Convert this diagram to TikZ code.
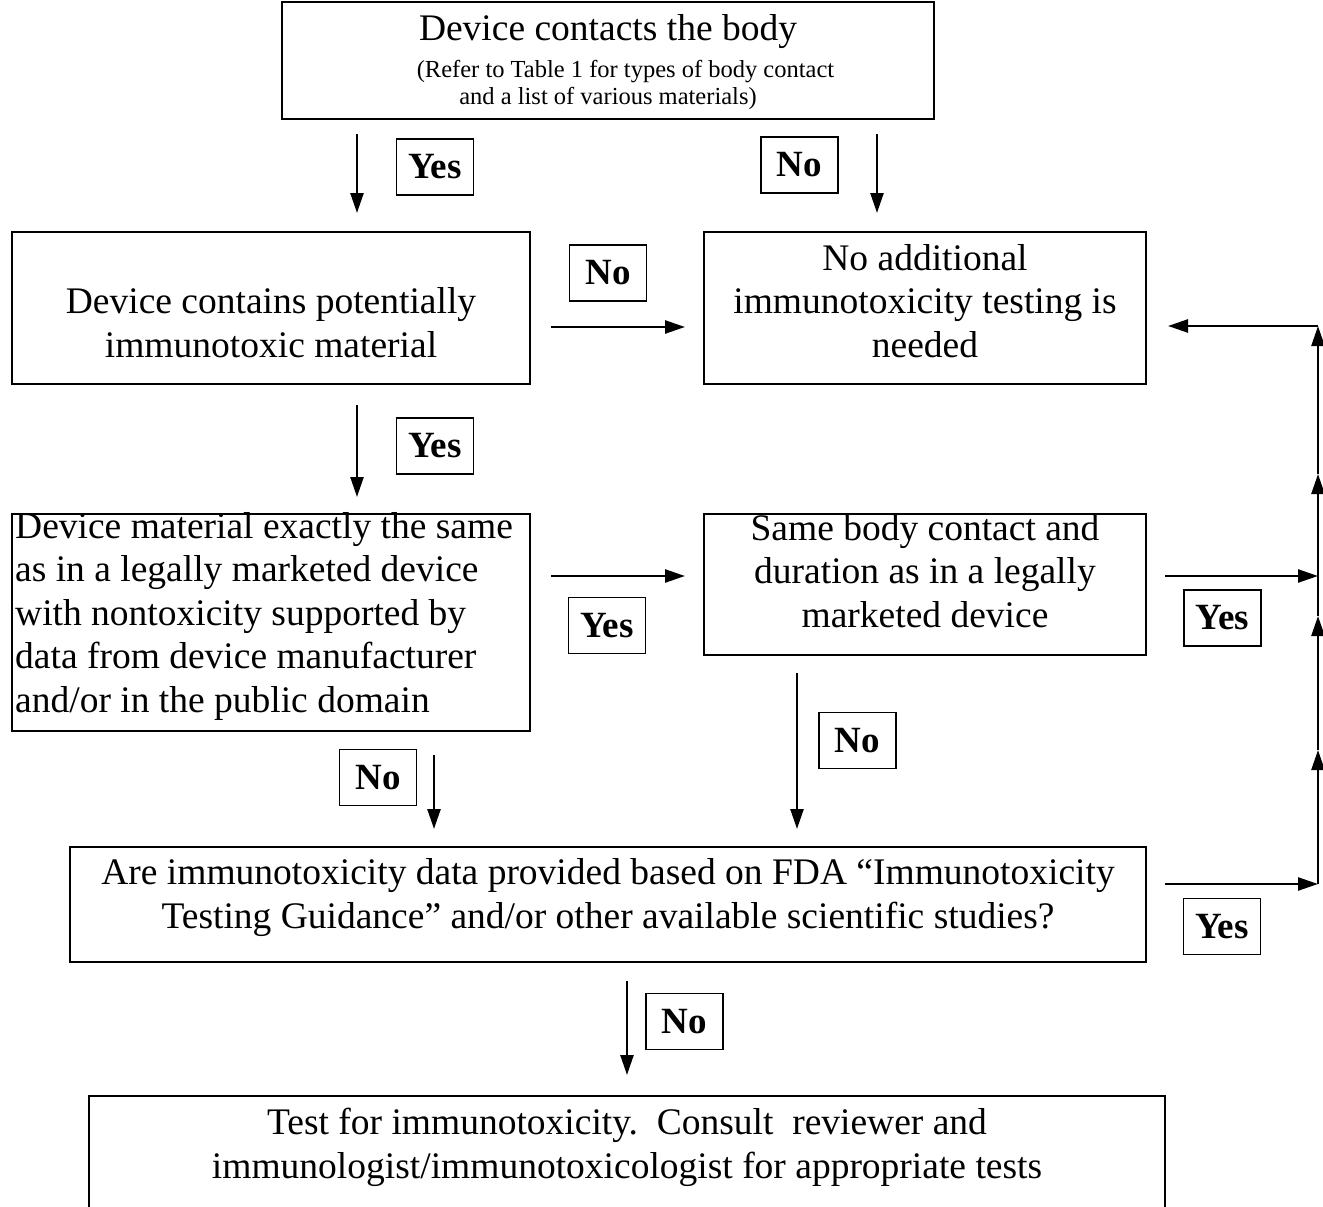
\documentclass[tikz,border=0pt]{standalone}
\usepackage{fontspec}
\setmainfont{Liberation Serif}
\usetikzlibrary{arrows.meta}
\begin{document}
\begin{tikzpicture}[x=1pt,y=-1pt,
  box/.style={draw, line width=1.8pt, inner sep=0pt},
  lbl/.style={draw, line width=1.3pt, minimum width=77pt, minimum height=56pt, inner sep=0pt,
    font=\fontsize{37}{40}\selectfont\bfseries},
  txt/.style={inner sep=0pt, align=center, font=\fontsize{37.5}{43.4}\selectfont, anchor=base},
  smalltxt/.style={inner sep=0pt, align=center, font=\fontsize{24.5}{27}\selectfont, anchor=base},
  arr/.style={line width=2.5pt, -{Triangle[length=20pt,width=13pt]}},
]
\useasboundingbox (0,0) rectangle (1323,1207);
\clip (0,0) rectangle (1323,1207);

% boxes
\node[box, minimum width=652pt, minimum height=117pt] (b1) at (608,60.5) {};
\node[box, minimum width=518pt, minimum height=152pt] (b2) at (271,308) {};
\node[box, minimum width=442pt, minimum height=152pt] (b3) at (925,308) {};
\node[box, minimum width=518pt, minimum height=217pt] (b4) at (271,622.5) {};
\node[box, minimum width=442pt, minimum height=141pt] (b5) at (925,584.5) {};
\node[box, minimum width=1076pt, minimum height=115pt] (b6) at (608,904.5) {};
\node[box, minimum width=1076pt, minimum height=134pt] (b7) at (627,1163) {};

% texts (anchor = baseline of the last line)
\node[txt] (t1) at (608,41) {Device contacts the body};
\node[smalltxt] (t1s) at (608,104) {\hspace*{35pt}(Refer to Table 1 for types of body contact\\and a list of various materials)};
\node[txt] (t2) at (271,357) {Device contains potentially\\immunotoxic material};
\node[txt] (t3) at (925,357) {No additional\\immunotoxicity testing is\\needed};
\node[txt, align=left, anchor=base west] (t4) at (15,712) {Device material exactly the same\\as in a legally marketed device\\with nontoxicity supported by\\data from device manufacturer\\and/or in the public domain};
\node[txt] (t5) at (925,627) {Same body contact and\\duration as in a legally\\marketed device};
\node[txt] (t6) at (608,928) {Are immunotoxicity data provided based on FDA \textquotedblleft Immunotoxicity\\Testing Guidance\textquotedblright{} and/or other available scientific studies?};
\node[txt] (t7) at (627,1178) {Test for immunotoxicity.\ \ Consult\ \ reviewer and\\immunologist/immunotoxicologist for appropriate tests};

% labels
\node[lbl] (y1) at (435,167) {Yes};
\node[lbl] (n1) at (799.5,165) {No};
\node[lbl] (n2) at (608,273) {No};
\node[lbl] (y2) at (435,446) {Yes};
\node[lbl] (y3) at (607,625.5) {Yes};
\node[lbl] (y4) at (1222.5,618) {Yes};
\node[lbl] (n3) at (857.5,740.5) {No};
\node[lbl] (n4) at (378,777.5) {No};
\node[lbl] (y5) at (1222,926.5) {Yes};
\node[lbl] (n5) at (684.5,1021.5) {No};

% connector end points
\coordinate (a1s) at (357,134);  \coordinate (a1e) at (357,213);
\coordinate (a2s) at (877,134);  \coordinate (a2e) at (877,213);
\coordinate (a3s) at (551,327);  \coordinate (a3e) at (685,327);
\coordinate (a4s) at (357,405);  \coordinate (a4e) at (357,497);
\coordinate (a5s) at (551,576);  \coordinate (a5e) at (685,576);
\coordinate (a6s) at (1165,576); \coordinate (a6e) at (1318,576);
\coordinate (a7s) at (797,673);  \coordinate (a7e) at (797,829);
\coordinate (a8s) at (434,755);  \coordinate (a8e) at (434,829);
\coordinate (a9s) at (1165,884); \coordinate (a9e) at (1318,884);
\coordinate (a10s) at (627,981); \coordinate (a10e) at (627,1075);
\coordinate (v1) at (1318,750);
\coordinate (v2) at (1318,616);
\coordinate (v3) at (1318,474);
\coordinate (v4) at (1318,326);
\coordinate (a11e) at (1168,326);

\draw[arr] (a1s) -- (a1e);
\draw[arr] (a2s) -- (a2e);
\draw[arr] (a3s) -- (a3e);
\draw[arr] (a4s) -- (a4e);
\draw[arr] (a5s) -- (a5e);
\draw[arr] (a6s) -- (a6e);
\draw[arr] (a7s) -- (a7e);
\draw[arr] (a8s) -- (a8e);
\draw[arr] (a9s) -- (a9e);
\draw[arr] (a10s) -- (a10e);
\draw[arr] (a9e) -- (v1);
\draw[arr] (v1) -- (v2);
\draw[arr] (v2) -- (v3);
\draw[arr] (v3) -- (v4);
\draw[arr] (v4) -- (a11e);
\end{tikzpicture}
\end{document}
